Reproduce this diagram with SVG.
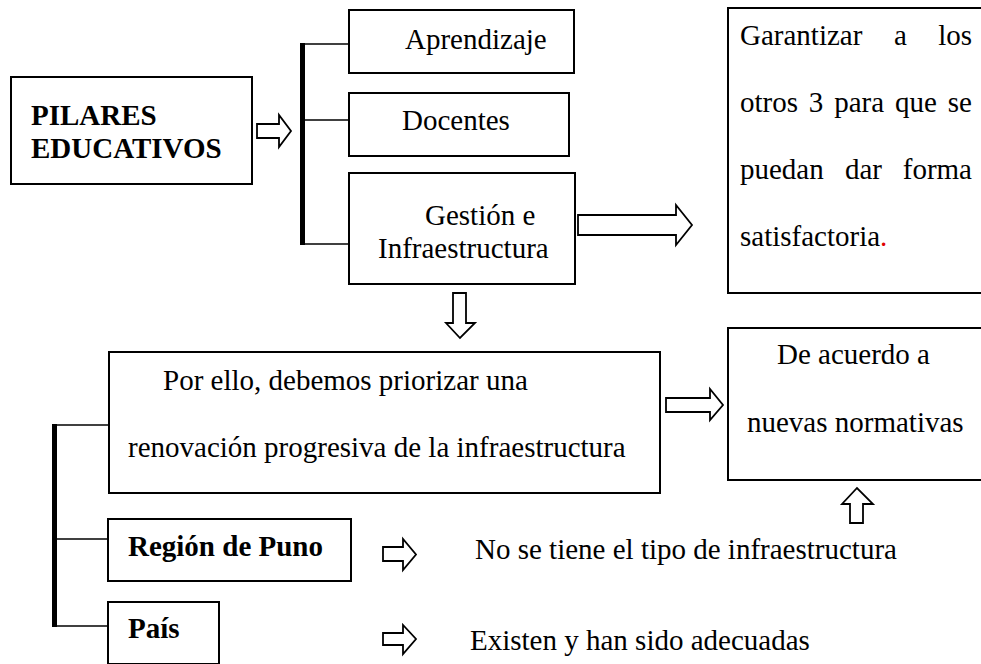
<svg xmlns="http://www.w3.org/2000/svg" width="981" height="664" viewBox="0 0 981 664" font-family="Liberation Serif, Times New Roman, serif" font-size="29">
<style>
.box{fill:#fff;stroke:#000;stroke-width:2}
.t{fill:#000}
.b{font-weight:bold}
.thin{stroke:#000;stroke-width:1.5;fill:none}
.thick{stroke:#000;stroke-width:5;fill:none}
.arr{fill:#fff;stroke:#000;stroke-width:1.8;stroke-linejoin:miter}
</style>
<rect width="981" height="664" fill="#fff"/>
<g id="connectors">
<line class="thick" x1="302.5" y1="43" x2="302.5" y2="245"/>
<line class="thin" x1="302" y1="44" x2="349" y2="44"/>
<line class="thin" x1="302" y1="120" x2="349" y2="120"/>
<line class="thin" x1="302" y1="244" x2="349" y2="244"/>
<line class="thick" x1="54.5" y1="424" x2="54.5" y2="627"/>
<line class="thin" x1="54" y1="425" x2="109" y2="425"/>
<line class="thin" x1="54" y1="539" x2="108" y2="539"/>
<line class="thin" x1="54" y1="626" x2="108" y2="626"/>
<path class="arr" d="M257,124 H279 V115 L291,131 L279,147 V138 H257 Z"/>
<path class="arr" d="M578,215 H676 V205 L692,225 L676,245 V235 H578 Z"/>
<path class="arr" d="M453,293 H466 V323 H475 L460,338 L446,323 H453 Z"/>
<path class="arr" d="M666,398 H710 V389 L723,405 L710,420 V412 H666 Z"/>
<path class="arr" d="M850,523 V504 H842 L857,488 L873,504 H863 V523 Z"/>
<path class="arr" d="M383,547 H403 V539 L416,554.5 L403,570 V561 H383 Z"/>
<path class="arr" d="M383,633 H403 V625 L416,639 L403,654 V645 H383 Z"/>
</g>
<g id="pilares">
<rect class="box" x="11" y="77" width="241" height="107"/>
<text class="t b" x="31" y="125">PILARES</text>
<text class="t b" x="31" y="158">EDUCATIVOS</text>
</g>
<g id="aprendizaje">
<rect class="box" x="349" y="10" width="225" height="63"/>
<text class="t" x="405" y="49">Aprendizaje</text>
</g>
<g id="docentes">
<rect class="box" x="349" y="93" width="220" height="63"/>
<text class="t" x="402" y="130">Docentes</text>
</g>
<g id="gestion">
<rect class="box" x="349" y="173" width="226" height="111"/>
<text class="t" x="425" y="225">Gestión e</text>
<text class="t" x="378" y="258">Infraestructura</text>
</g>
<g id="garantizar">
<rect class="box" x="728" y="8" width="270" height="285"/>
<text class="t" x="740" y="45">Garantizar</text>
<text class="t" x="894" y="45">a</text>
<text class="t" x="972" y="45" text-anchor="end">los</text>
<text class="t" x="740" y="112" word-spacing="3.6">otros 3 para que se</text>
<text class="t" x="740" y="179">puedan</text>
<text class="t" x="845" y="179">dar</text>
<text class="t" x="972" y="179" text-anchor="end">forma</text>
<text class="t" x="740" y="246">satisfactoria<tspan fill="#e00000">.</tspan></text>
</g>
<g id="porello">
<rect class="box" x="109" y="352" width="551" height="141"/>
<text class="t" x="163" y="390">Por ello, debemos priorizar una</text>
<text class="t" x="128" y="457">renovación progresiva de la infraestructura</text>
</g>
<g id="deacuerdo">
<rect class="box" x="728" y="328" width="270" height="152"/>
<text class="t" x="777" y="364">De acuerdo a</text>
<text class="t" x="747" y="432">nuevas normativas</text>
</g>
<g id="puno">
<rect class="box" x="108" y="519" width="243" height="62"/>
<text class="t b" x="128" y="556">Región de Puno</text>
</g>
<g id="pais">
<rect class="box" x="108" y="602" width="111" height="62"/>
<text class="t b" x="128" y="638">País</text>
</g>
<g id="noSeTiene">
<text class="t" x="475" y="559">No se tiene el tipo de infraestructura</text>
</g>
<g id="existen">
<text class="t" x="470" y="650">Existen y han sido adecuadas</text>
</g>
</svg>
